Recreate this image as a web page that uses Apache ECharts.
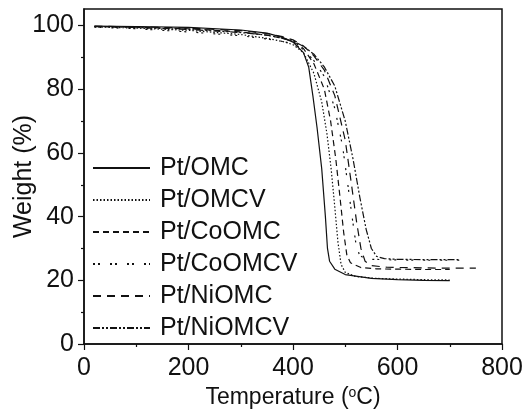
<!DOCTYPE html>
<html><head><meta charset="utf-8">
<script src="https://cdn.jsdelivr.net/npm/echarts@6/dist/echarts.min.js"></script>
<style>html,body{margin:0;padding:0;background:#fff}#c{width:526px;height:415px}</style>
</head><body><div id="c"></div>
<script>
// ---- data ----
const seriesNames = ['Pt/OMC','Pt/OMCV','Pt/CoOMC','Pt/CoOMCV','Pt/NiOMC','Pt/NiOMCV'];
const xTicks = [0,200,400,600,800];
const yTicks = [0,20,40,60,80,100];
const yMinorTicks = [10,30,50,70,90];

const tOMC = [20,100,200,300,350,380,400,420,430,438,446,455,462,466,470,480,500,550,600,650,700];
const wOMC = [99.8,99.7,99.4,98.6,97.6,96.3,94.8,91.5,87,78,68,55,40,30,26,23.5,21.8,20.6,20.2,20.0,19.9];

const tOMCV = [20,100,200,300,350,380,400,420,440,455,465,473,480,486,492,500,520,560,600,650,700];
const wOMCV = [99.6,99.2,98.5,97.2,96.0,95.0,94.0,91.5,85,76,66,55,43,32,25,22.5,21.2,20.6,20.4,20.2,20.1];

const tCoOMC = [20,100,200,300,350,380,400,420,440,460,472,482,490,497,503,510,530,560,600,650,700];
const wCoOMC = [99.7,99.5,99.0,98.0,97.0,96.0,95.0,92.8,88,80,70,58,46,35,28,25.5,24,23.6,23.5,23.4,23.4];

const tCoOMCV = [20,100,200,300,350,380,400,420,440,460,480,495,505,513,520,527,535,550,600,650,700,720];
const wCoOMCV = [99.5,99.0,98.0,96.8,95.8,95.0,94.3,92.5,89,84,74,62,50,40,32,28,27,26.6,26.4,26.3,26.3,26.3];

const tNiOMC = [20,100,200,300,350,380,400,420,440,460,480,500,512,522,530,538,550,580,650,700,750];
const wNiOMC = [99.8,99.6,99.2,98.4,97.5,96.5,95.5,93.6,90.5,86,78,64,50,38,30,26,24.6,24.1,23.9,23.8,23.8];

const tNiOMCV = [20,100,200,300,350,380,400,420,440,460,480,500,515,528,540,550,560,575,600,650,720];
const wNiOMCV = [99.7,99.4,98.8,97.8,97.0,96.0,95.2,93.5,91,87,81,70,58,46,36,30,27.5,26.8,26.6,26.5,26.5];

const allT = [tOMC,tOMCV,tCoOMC,tCoOMCV,tNiOMC,tNiOMCV];
const allW = [wOMC,wOMCV,wCoOMC,wCoOMCV,wNiOMC,wNiOMCV];
const dashes = ['solid',[1.5,2],[6,4],[2,3,2,10],[8,6],[7,2,2,2,2,2]];

const FONT = 'Liberation Sans, Arial, Helvetica, sans-serif';
const ink = '#111';

const chart = echarts.init(document.getElementById('c'), null, {renderer:'canvas'});
const series = seriesNames.map((n,i)=>({
  name:n, type:'line', symbol:'none', showSymbol:false, smooth:false,
  xAxisIndex:0, yAxisIndex:0,
  data: allT[i].map((t,k)=>[t, allW[i][k]]),
  lineStyle:{color:ink, width:1.2, type:dashes[i]},
  itemStyle:{color:ink},
  emphasis:{disabled:true}, animation:false
}));

chart.setOption({
  animation:false,
  backgroundColor:'#fff',
  grid:{left:84, right:24, top:9, bottom:71, outerBoundsMode:'none', containLabel:false,
        show:true, borderColor:ink, borderWidth:1.5, backgroundColor:'transparent'},
  legend:{
    orient:'vertical', left:87, top:150, itemWidth:57, itemHeight:10, itemGap:6,
    data:seriesNames, selectedMode:false,
    itemStyle:{opacity:0},
    textStyle:{fontFamily:FONT, fontSize:25, color:ink, lineHeight:26, padding:[0,0,0,5]}
  },
  xAxis:{
    type:'value', min:0, max:800, interval:200,
    name:'{a|Temperature (}{s|o}{a|C)}', nameLocation:'middle', nameGap:42, nameMoveOverlap:false,
    nameTextStyle:{rich:{a:{fontFamily:FONT,fontSize:23,color:ink}, s:{fontFamily:FONT,fontSize:14,color:ink,verticalAlign:'top',padding:[0,0,10,0]}}},
    axisLine:{lineStyle:{color:ink,width:1.5}},
    axisTick:{show:true,inside:false,length:6,lineStyle:{color:ink,width:1.2}},
    minorTick:{show:true,splitNumber:2,length:3,lineStyle:{color:ink,width:1.2}},
    axisLabel:{fontFamily:FONT,fontSize:25,color:ink,margin:12},
    splitLine:{show:false}
  },
  yAxis:[{
    type:'value', min:0, max:105.2,
    name:'Weight (%)', nameLocation:'middle', nameGap:47, nameRotate:90, nameMoveOverlap:false,
    nameTextStyle:{fontFamily:FONT,fontSize:25,color:ink},
    axisLine:{lineStyle:{color:ink,width:1.5}},
    axisTick:{show:true,inside:false,length:6,customValues:yTicks,lineStyle:{color:ink,width:1.2}},
    axisLabel:{fontFamily:FONT,fontSize:25,color:ink,margin:10,customValues:yTicks},
    splitLine:{show:false}
  },{
    type:'value', min:0, max:105.2, position:'left',
    axisLine:{show:false},
    axisTick:{show:true,inside:false,length:3,customValues:yMinorTicks,lineStyle:{color:ink,width:1.2}},
    axisLabel:{show:false},
    splitLine:{show:false}
  }],
  series:series
});
</script></body></html>
